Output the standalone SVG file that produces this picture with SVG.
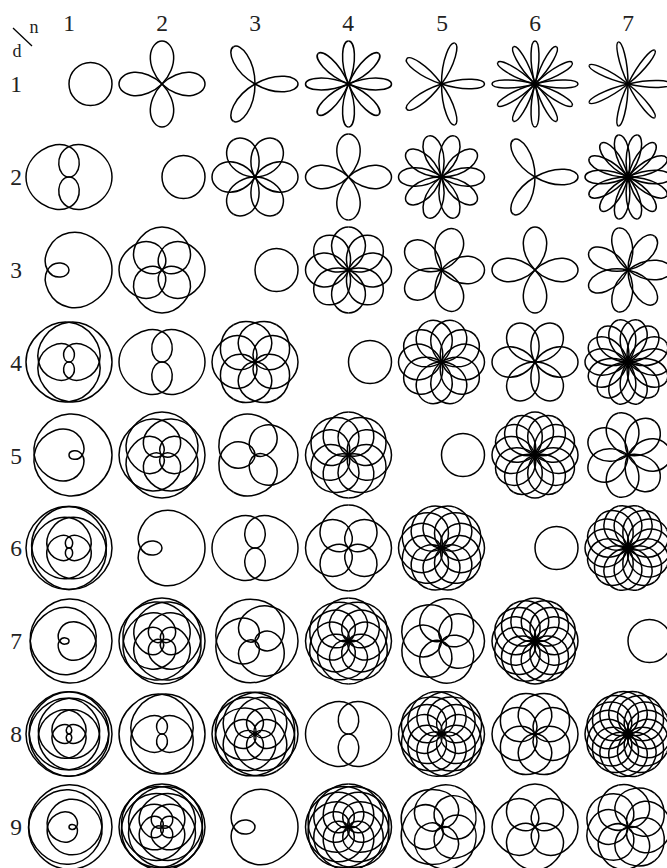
<svg xmlns="http://www.w3.org/2000/svg" width="667" height="868" viewBox="0 0 667 868">
<style>
.c{fill:none;stroke:#000;stroke-width:1.5}
text{font-family:"Liberation Serif",serif;font-size:23.5px;fill:#222;text-anchor:middle}
.s{font-size:18px}
</style>
<defs>
<circle id="k1" cx="21.5" cy="0" r="21.5"/>
<path id="h1_2" d="M43 0C43 22.52 15.92 38.36 0 30.41S-11.26 0 0 0"/>
<path id="h1_3" d="M43 0C43 22.52 19.5 40.99 0 37.24S-28 11.25 -21.5 0S0 -7.51 0 0"/>
<path id="h1_4" d="M43 0C43 22.52 20.8 41.88 0 39.73S-34.39 15.92 -30.41 0S-8.62 -21.66 0 -16.46S5.63 0 0 0"/>
<path id="h1_5" d="M43 0C43 22.52 21.42 42.29 0 40.9S-37.43 18.22 -34.79 0S-13.24 -28.92 0 -25.28S17.57 -6.96 13.29 0S0 4.5 0 0"/>
<path id="h1_6" d="M43 0C43 22.51 21.75 42.51 0 41.53S-39.11 19.5 -37.24 0S-15.92 -33.06 0 -30.41S24.75 -11.26 21.5 0S5.83 14.75 0 11.13S-3.75 0 0 0"/>
<path id="h1_7" d="M43 0C43 22.51 21.95 42.64 0 41.92S-40.14 20.28 -38.74 0S-17.6 -35.62 0 -33.62S29.33 -14.04 26.81 0S9.77 21.56 0 18.66S-12.7 5.01 -9.57 0S0 -3.22 0 0"/>
<path id="h1_8" d="M43 0C43 22.51 22.08 42.72 0 42.17S-40.8 20.8 -39.73 0S-18.72 -37.32 0 -35.75S32.4 -15.92 30.41 0S12.51 26.23 0 23.89S-19.06 8.61 -16.46 0S-4.39 -11.15 0 -8.39S2.81 0 0 0"/>
<path id="h1_9" d="M43 0C43 22.51 22.17 42.78 0 42.35S-41.26 21.15 -40.41 0S-19.49 -38.49 0 -37.24S34.55 -17.24 32.94 0S14.47 29.56 0 27.64S-23.67 11.26 -21.5 0S-7.7 -17.06 0 -14.71S9.93 -3.91 7.47 0S0 2.5 0 0"/>
<path id="h2_1" d="M43 0C43 5.63 36.96 11 28.1 11.64S7.96 7.96 0 0"/>
<path id="h2_3" d="M43 0C43 16.89 25.71 30.87 11.64 28.1S-7.96 7.96 0 0"/>
<path id="h2_5" d="M43 0C43 18.76 26.31 35.38 9.64 35.97S-19.56 22.12 -18.62 10.75S-5.31 -5.31 0 0"/>
<path id="h2_7" d="M43 0C43 19.7 26.02 37.53 7.75 38.97S-26.44 26.03 -28.1 11.64S-18.3 -13.82 -9.14 -13.69S3.98 -3.98 0 0"/>
<path id="h2_9" d="M43 0C43 20.27 25.64 38.76 6.4 40.4S-30.54 27.16 -33.09 10.75S-23.74 -20.36 -11.48 -22.52S10.53 -15.39 10.75 -7.81S3.18 3.18 0 0"/>
<path id="h3_1" d="M43 0C43 8.25 21.44 12.39 0 0"/>
<path id="h3_2" d="M43 0C43 7.51 35.87 14.58 26.34 15.2S5.63 9.75 0 0"/>
<path id="h3_4" d="M43 0C43 15.01 28.37 27.91 15.2 26.34S-5.63 9.75 0 0"/>
<path id="h3_5" d="M43 0C43 18.77 22.75 33.62 7.87 29.37S-9.75 5.63 0 0"/>
<path id="h3_7" d="M43 0C43 17.51 28.27 33.33 12.74 34.99S-15.83 24.7 -16.47 13.82S-6.5 -3.75 0 0"/>
<path id="h3_8" d="M43 0C43 20.01 24.19 37.36 6.47 36.67S-22.89 18.98 -20.2 7.35S-3.75 -6.5 0 0"/>
<path id="h4_1" d="M43 0C43 6.19 22.88 9.47 0 0"/>
<path id="h4_3" d="M43 0C43 8.45 35.22 16.35 25.29 16.9S4.31 10.4 0 0"/>
<path id="h4_5" d="M43 0C43 14.08 29.58 26.37 16.9 25.29S-4.31 10.4 0 0"/>
<path id="h4_7" d="M43 0C43 19.71 21.14 34.9 5.93 29.83S-10.4 4.31 0 0"/>
<path id="h4_9" d="M43 0C43 16.89 29.21 32.27 14.25 34.41S-13.83 25.77 -15.2 15.2S-6.93 -2.87 0 0"/>
<path id="h5_1" d="M43 0C43 4.95 23.55 7.66 0 0"/>
<path id="h5_2" d="M43 0C43 9.9 20.03 14.55 0 0"/>
<path id="h5_3" d="M43 0C43 6.76 36.35 13.16 27.1 13.81S6.62 9.11 0 0"/>
<path id="h5_4" d="M43 0C43 9.01 34.77 17.4 24.6 17.87S3.48 10.71 0 0"/>
<path id="h5_6" d="M43 0C43 13.51 30.28 25.42 17.87 24.6S-3.48 10.71 0 0"/>
<path id="h5_7" d="M43 0C43 15.76 27.35 29.12 13.81 27.1S-6.62 9.11 0 0"/>
<path id="h5_8" d="M43 0C43 18.02 23.97 32.54 9.4 28.92S-9.11 6.62 0 0"/>
<path id="h5_9" d="M43 0C43 20.27 20.15 35.65 4.76 30.04S-10.71 3.48 0 0"/>
<path id="h6_1" d="M43 0C43 4.13 23.91 6.41 0 0"/>
<path id="h6_5" d="M43 0C43 9.38 34.47 18.09 24.13 18.51S2.91 10.88 0 0"/>
<path id="h6_7" d="M43 0C43 13.14 30.72 24.77 18.51 24.13S-2.91 10.88 0 0"/>
<path id="h7_1" d="M43 0C43 3.54 24.15 5.51 0 0"/>
<path id="h7_2" d="M43 0C43 7.07 22.31 10.75 0 0"/>
<path id="h7_3" d="M43 0C43 10.62 19.36 15.44 0 0"/>
<path id="h7_4" d="M43 0C43 6.43 36.53 12.54 27.4 13.19S7.02 8.8 0 0"/>
<path id="h7_5" d="M43 0C43 8.04 35.51 15.59 25.75 16.18S4.89 10.15 0 0"/>
<path id="h7_6" d="M43 0C43 9.65 34.24 18.59 23.77 18.96S2.51 10.98 0 0"/>
<path id="h7_8" d="M43 0C43 12.87 31.03 24.32 18.96 23.77S-2.51 10.98 0 0"/>
<path id="h7_9" d="M43 0C43 14.48 29.07 27.04 16.18 25.75S-4.89 10.15 0 0"/>

<g id="p1_2"><use href="#h1_2"/><use href="#h1_2" transform="scale(1,-1)"/></g>
<g id="p1_4"><use href="#h1_4"/><use href="#h1_4" transform="scale(1,-1)"/></g>
<g id="p1_6"><use href="#h1_6"/><use href="#h1_6" transform="scale(1,-1)"/></g>
<g id="p1_8"><use href="#h1_8"/><use href="#h1_8" transform="scale(1,-1)"/></g>
<g id="p2_1"><use href="#h2_1"/><use href="#h2_1" transform="scale(1,-1)"/></g>
<g id="p2_3"><use href="#h2_3"/><use href="#h2_3" transform="scale(1,-1)"/></g>
<g id="p2_5"><use href="#h2_5"/><use href="#h2_5" transform="scale(1,-1)"/></g>
<g id="p2_7"><use href="#h2_7"/><use href="#h2_7" transform="scale(1,-1)"/></g>
<g id="p2_9"><use href="#h2_9"/><use href="#h2_9" transform="scale(1,-1)"/></g>
<g id="p3_1"><use href="#h3_1"/><use href="#h3_1" transform="scale(1,-1)"/></g>
<g id="p3_2"><use href="#h3_2"/><use href="#h3_2" transform="scale(1,-1)"/></g>
<g id="p3_4"><use href="#h3_4"/><use href="#h3_4" transform="scale(1,-1)"/></g>
<g id="p3_5"><use href="#h3_5"/><use href="#h3_5" transform="scale(1,-1)"/></g>
<g id="p3_7"><use href="#h3_7"/><use href="#h3_7" transform="scale(1,-1)"/></g>
<g id="p3_8"><use href="#h3_8"/><use href="#h3_8" transform="scale(1,-1)"/></g>
<g id="p4_1"><use href="#h4_1"/><use href="#h4_1" transform="scale(1,-1)"/></g>
<g id="p4_3"><use href="#h4_3"/><use href="#h4_3" transform="scale(1,-1)"/></g>
<g id="p4_5"><use href="#h4_5"/><use href="#h4_5" transform="scale(1,-1)"/></g>
<g id="p4_7"><use href="#h4_7"/><use href="#h4_7" transform="scale(1,-1)"/></g>
<g id="p4_9"><use href="#h4_9"/><use href="#h4_9" transform="scale(1,-1)"/></g>
<g id="p5_1"><use href="#h5_1"/><use href="#h5_1" transform="scale(1,-1)"/></g>
<g id="p5_2"><use href="#h5_2"/><use href="#h5_2" transform="scale(1,-1)"/></g>
<g id="p5_3"><use href="#h5_3"/><use href="#h5_3" transform="scale(1,-1)"/></g>
<g id="p5_4"><use href="#h5_4"/><use href="#h5_4" transform="scale(1,-1)"/></g>
<g id="p5_6"><use href="#h5_6"/><use href="#h5_6" transform="scale(1,-1)"/></g>
<g id="p5_7"><use href="#h5_7"/><use href="#h5_7" transform="scale(1,-1)"/></g>
<g id="p5_8"><use href="#h5_8"/><use href="#h5_8" transform="scale(1,-1)"/></g>
<g id="p5_9"><use href="#h5_9"/><use href="#h5_9" transform="scale(1,-1)"/></g>
<g id="p6_1"><use href="#h6_1"/><use href="#h6_1" transform="scale(1,-1)"/></g>
<g id="p6_5"><use href="#h6_5"/><use href="#h6_5" transform="scale(1,-1)"/></g>
<g id="p6_7"><use href="#h6_7"/><use href="#h6_7" transform="scale(1,-1)"/></g>
<g id="p7_1"><use href="#h7_1"/><use href="#h7_1" transform="scale(1,-1)"/></g>
<g id="p7_2"><use href="#h7_2"/><use href="#h7_2" transform="scale(1,-1)"/></g>
<g id="p7_3"><use href="#h7_3"/><use href="#h7_3" transform="scale(1,-1)"/></g>
<g id="p7_4"><use href="#h7_4"/><use href="#h7_4" transform="scale(1,-1)"/></g>
<g id="p7_5"><use href="#h7_5"/><use href="#h7_5" transform="scale(1,-1)"/></g>
<g id="p7_6"><use href="#h7_6"/><use href="#h7_6" transform="scale(1,-1)"/></g>
<g id="p7_8"><use href="#h7_8"/><use href="#h7_8" transform="scale(1,-1)"/></g>
<g id="p7_9"><use href="#h7_9"/><use href="#h7_9" transform="scale(1,-1)"/></g>
<g id="p1_3"><use href="#h1_3"/><use href="#h1_3" transform="scale(1,-1)"/></g>
<g id="p1_5"><use href="#h1_5"/><use href="#h1_5" transform="scale(1,-1)"/></g>
<g id="p1_7"><use href="#h1_7"/><use href="#h1_7" transform="scale(1,-1)"/></g>
<g id="p1_9"><use href="#h1_9"/><use href="#h1_9" transform="scale(1,-1)"/></g>

<g id="k1_2"><use href="#p1_2"/><use href="#p1_2" transform="rotate(180)"/></g>
<g id="k1_4"><use href="#p1_4"/><use href="#p1_4" transform="rotate(180)"/></g>
<g id="k1_6"><use href="#p1_6"/><use href="#p1_6" transform="rotate(180)"/></g>
<g id="k1_8"><use href="#p1_8"/><use href="#p1_8" transform="rotate(180)"/></g>

<g id="k2_1"><use href="#p2_1"/><use href="#p2_1" transform="rotate(90)"/><use href="#p2_1" transform="rotate(180)"/><use href="#p2_1" transform="rotate(270)"/></g>
<g id="k2_3"><use href="#p2_3"/><use href="#p2_3" transform="rotate(90)"/><use href="#p2_3" transform="rotate(180)"/><use href="#p2_3" transform="rotate(270)"/></g>
<g id="k2_5"><use href="#p2_5"/><use href="#p2_5" transform="rotate(90)"/><use href="#p2_5" transform="rotate(180)"/><use href="#p2_5" transform="rotate(270)"/></g>
<g id="k2_7"><use href="#p2_7"/><use href="#p2_7" transform="rotate(90)"/><use href="#p2_7" transform="rotate(180)"/><use href="#p2_7" transform="rotate(270)"/></g>
<g id="k2_9"><use href="#p2_9"/><use href="#p2_9" transform="rotate(90)"/><use href="#p2_9" transform="rotate(180)"/><use href="#p2_9" transform="rotate(270)"/></g>

<g id="k3_1"><use href="#p3_1"/><use href="#p3_1" transform="rotate(120)"/><use href="#p3_1" transform="rotate(240)"/></g>
<g id="k3_5"><use href="#p3_5"/><use href="#p3_5" transform="rotate(120)"/><use href="#p3_5" transform="rotate(240)"/></g>
<g id="k3_7"><use href="#p3_7"/><use href="#p3_7" transform="rotate(120)"/><use href="#p3_7" transform="rotate(240)"/></g>
<g id="k3_2"><use href="#p3_2"/><use href="#p3_2" transform="rotate(60)"/><use href="#p3_2" transform="rotate(120)"/><use href="#p3_2" transform="rotate(180)"/><use href="#p3_2" transform="rotate(240)"/><use href="#p3_2" transform="rotate(300)"/></g>
<g id="k3_4"><use href="#p3_4"/><use href="#p3_4" transform="rotate(60)"/><use href="#p3_4" transform="rotate(120)"/><use href="#p3_4" transform="rotate(180)"/><use href="#p3_4" transform="rotate(240)"/><use href="#p3_4" transform="rotate(300)"/></g>
<g id="k3_8"><use href="#p3_8"/><use href="#p3_8" transform="rotate(60)"/><use href="#p3_8" transform="rotate(120)"/><use href="#p3_8" transform="rotate(180)"/><use href="#p3_8" transform="rotate(240)"/><use href="#p3_8" transform="rotate(300)"/></g>

<g id="k4_1"><use href="#p4_1"/><use href="#p4_1" transform="rotate(45)"/><use href="#p4_1" transform="rotate(90)"/><use href="#p4_1" transform="rotate(135)"/><use href="#p4_1" transform="rotate(180)"/><use href="#p4_1" transform="rotate(225)"/><use href="#p4_1" transform="rotate(270)"/><use href="#p4_1" transform="rotate(315)"/></g>
<g id="k4_3"><use href="#p4_3"/><use href="#p4_3" transform="rotate(45)"/><use href="#p4_3" transform="rotate(90)"/><use href="#p4_3" transform="rotate(135)"/><use href="#p4_3" transform="rotate(180)"/><use href="#p4_3" transform="rotate(225)"/><use href="#p4_3" transform="rotate(270)"/><use href="#p4_3" transform="rotate(315)"/></g>
<g id="k4_5"><use href="#p4_5"/><use href="#p4_5" transform="rotate(45)"/><use href="#p4_5" transform="rotate(90)"/><use href="#p4_5" transform="rotate(135)"/><use href="#p4_5" transform="rotate(180)"/><use href="#p4_5" transform="rotate(225)"/><use href="#p4_5" transform="rotate(270)"/><use href="#p4_5" transform="rotate(315)"/></g>
<g id="k4_7"><use href="#p4_7"/><use href="#p4_7" transform="rotate(45)"/><use href="#p4_7" transform="rotate(90)"/><use href="#p4_7" transform="rotate(135)"/><use href="#p4_7" transform="rotate(180)"/><use href="#p4_7" transform="rotate(225)"/><use href="#p4_7" transform="rotate(270)"/><use href="#p4_7" transform="rotate(315)"/></g>
<g id="k4_9"><use href="#p4_9"/><use href="#p4_9" transform="rotate(45)"/><use href="#p4_9" transform="rotate(90)"/><use href="#p4_9" transform="rotate(135)"/><use href="#p4_9" transform="rotate(180)"/><use href="#p4_9" transform="rotate(225)"/><use href="#p4_9" transform="rotate(270)"/><use href="#p4_9" transform="rotate(315)"/></g>

<g id="k5_1"><use href="#p5_1"/><use href="#p5_1" transform="rotate(72)"/><use href="#p5_1" transform="rotate(144)"/><use href="#p5_1" transform="rotate(216)"/><use href="#p5_1" transform="rotate(288)"/></g>
<g id="k5_3"><use href="#p5_3"/><use href="#p5_3" transform="rotate(72)"/><use href="#p5_3" transform="rotate(144)"/><use href="#p5_3" transform="rotate(216)"/><use href="#p5_3" transform="rotate(288)"/></g>
<g id="k5_7"><use href="#p5_7"/><use href="#p5_7" transform="rotate(72)"/><use href="#p5_7" transform="rotate(144)"/><use href="#p5_7" transform="rotate(216)"/><use href="#p5_7" transform="rotate(288)"/></g>
<g id="k5_9"><use href="#p5_9"/><use href="#p5_9" transform="rotate(72)"/><use href="#p5_9" transform="rotate(144)"/><use href="#p5_9" transform="rotate(216)"/><use href="#p5_9" transform="rotate(288)"/></g>
<g id="k5_2"><use href="#p5_2"/><use href="#p5_2" transform="rotate(36)"/><use href="#p5_2" transform="rotate(72)"/><use href="#p5_2" transform="rotate(108)"/><use href="#p5_2" transform="rotate(144)"/><use href="#p5_2" transform="rotate(180)"/><use href="#p5_2" transform="rotate(216)"/><use href="#p5_2" transform="rotate(252)"/><use href="#p5_2" transform="rotate(288)"/><use href="#p5_2" transform="rotate(324)"/></g>
<g id="k5_4"><use href="#p5_4"/><use href="#p5_4" transform="rotate(36)"/><use href="#p5_4" transform="rotate(72)"/><use href="#p5_4" transform="rotate(108)"/><use href="#p5_4" transform="rotate(144)"/><use href="#p5_4" transform="rotate(180)"/><use href="#p5_4" transform="rotate(216)"/><use href="#p5_4" transform="rotate(252)"/><use href="#p5_4" transform="rotate(288)"/><use href="#p5_4" transform="rotate(324)"/></g>
<g id="k5_6"><use href="#p5_6"/><use href="#p5_6" transform="rotate(36)"/><use href="#p5_6" transform="rotate(72)"/><use href="#p5_6" transform="rotate(108)"/><use href="#p5_6" transform="rotate(144)"/><use href="#p5_6" transform="rotate(180)"/><use href="#p5_6" transform="rotate(216)"/><use href="#p5_6" transform="rotate(252)"/><use href="#p5_6" transform="rotate(288)"/><use href="#p5_6" transform="rotate(324)"/></g>
<g id="k5_8"><use href="#p5_8"/><use href="#p5_8" transform="rotate(36)"/><use href="#p5_8" transform="rotate(72)"/><use href="#p5_8" transform="rotate(108)"/><use href="#p5_8" transform="rotate(144)"/><use href="#p5_8" transform="rotate(180)"/><use href="#p5_8" transform="rotate(216)"/><use href="#p5_8" transform="rotate(252)"/><use href="#p5_8" transform="rotate(288)"/><use href="#p5_8" transform="rotate(324)"/></g>

<g id="k6_1"><use href="#p6_1"/><use href="#p6_1" transform="rotate(30)"/><use href="#p6_1" transform="rotate(60)"/><use href="#p6_1" transform="rotate(90)"/><use href="#p6_1" transform="rotate(120)"/><use href="#p6_1" transform="rotate(150)"/><use href="#p6_1" transform="rotate(180)"/><use href="#p6_1" transform="rotate(210)"/><use href="#p6_1" transform="rotate(240)"/><use href="#p6_1" transform="rotate(270)"/><use href="#p6_1" transform="rotate(300)"/><use href="#p6_1" transform="rotate(330)"/></g>
<g id="k6_5"><use href="#p6_5"/><use href="#p6_5" transform="rotate(30)"/><use href="#p6_5" transform="rotate(60)"/><use href="#p6_5" transform="rotate(90)"/><use href="#p6_5" transform="rotate(120)"/><use href="#p6_5" transform="rotate(150)"/><use href="#p6_5" transform="rotate(180)"/><use href="#p6_5" transform="rotate(210)"/><use href="#p6_5" transform="rotate(240)"/><use href="#p6_5" transform="rotate(270)"/><use href="#p6_5" transform="rotate(300)"/><use href="#p6_5" transform="rotate(330)"/></g>
<g id="k6_7"><use href="#p6_7"/><use href="#p6_7" transform="rotate(30)"/><use href="#p6_7" transform="rotate(60)"/><use href="#p6_7" transform="rotate(90)"/><use href="#p6_7" transform="rotate(120)"/><use href="#p6_7" transform="rotate(150)"/><use href="#p6_7" transform="rotate(180)"/><use href="#p6_7" transform="rotate(210)"/><use href="#p6_7" transform="rotate(240)"/><use href="#p6_7" transform="rotate(270)"/><use href="#p6_7" transform="rotate(300)"/><use href="#p6_7" transform="rotate(330)"/></g>

<g id="k7_1"><use href="#p7_1"/><use href="#p7_1" transform="rotate(51.43)"/><use href="#p7_1" transform="rotate(102.86)"/><use href="#p7_1" transform="rotate(154.29)"/><use href="#p7_1" transform="rotate(205.71)"/><use href="#p7_1" transform="rotate(257.14)"/><use href="#p7_1" transform="rotate(308.57)"/></g>
<g id="k7_3"><use href="#p7_3"/><use href="#p7_3" transform="rotate(51.43)"/><use href="#p7_3" transform="rotate(102.86)"/><use href="#p7_3" transform="rotate(154.29)"/><use href="#p7_3" transform="rotate(205.71)"/><use href="#p7_3" transform="rotate(257.14)"/><use href="#p7_3" transform="rotate(308.57)"/></g>
<g id="k7_5"><use href="#p7_5"/><use href="#p7_5" transform="rotate(51.43)"/><use href="#p7_5" transform="rotate(102.86)"/><use href="#p7_5" transform="rotate(154.29)"/><use href="#p7_5" transform="rotate(205.71)"/><use href="#p7_5" transform="rotate(257.14)"/><use href="#p7_5" transform="rotate(308.57)"/></g>
<g id="k7_9"><use href="#p7_9"/><use href="#p7_9" transform="rotate(51.43)"/><use href="#p7_9" transform="rotate(102.86)"/><use href="#p7_9" transform="rotate(154.29)"/><use href="#p7_9" transform="rotate(205.71)"/><use href="#p7_9" transform="rotate(257.14)"/><use href="#p7_9" transform="rotate(308.57)"/></g>
<g id="k7_2"><use href="#p7_2"/><use href="#p7_2" transform="rotate(25.71)"/><use href="#p7_2" transform="rotate(51.43)"/><use href="#p7_2" transform="rotate(77.14)"/><use href="#p7_2" transform="rotate(102.86)"/><use href="#p7_2" transform="rotate(128.57)"/><use href="#p7_2" transform="rotate(154.29)"/><use href="#p7_2" transform="rotate(180)"/><use href="#p7_2" transform="rotate(205.71)"/><use href="#p7_2" transform="rotate(231.43)"/><use href="#p7_2" transform="rotate(257.14)"/><use href="#p7_2" transform="rotate(282.86)"/><use href="#p7_2" transform="rotate(308.57)"/><use href="#p7_2" transform="rotate(334.29)"/></g>
<g id="k7_4"><use href="#p7_4"/><use href="#p7_4" transform="rotate(25.71)"/><use href="#p7_4" transform="rotate(51.43)"/><use href="#p7_4" transform="rotate(77.14)"/><use href="#p7_4" transform="rotate(102.86)"/><use href="#p7_4" transform="rotate(128.57)"/><use href="#p7_4" transform="rotate(154.29)"/><use href="#p7_4" transform="rotate(180)"/><use href="#p7_4" transform="rotate(205.71)"/><use href="#p7_4" transform="rotate(231.43)"/><use href="#p7_4" transform="rotate(257.14)"/><use href="#p7_4" transform="rotate(282.86)"/><use href="#p7_4" transform="rotate(308.57)"/><use href="#p7_4" transform="rotate(334.29)"/></g>
<g id="k7_6"><use href="#p7_6"/><use href="#p7_6" transform="rotate(25.71)"/><use href="#p7_6" transform="rotate(51.43)"/><use href="#p7_6" transform="rotate(77.14)"/><use href="#p7_6" transform="rotate(102.86)"/><use href="#p7_6" transform="rotate(128.57)"/><use href="#p7_6" transform="rotate(154.29)"/><use href="#p7_6" transform="rotate(180)"/><use href="#p7_6" transform="rotate(205.71)"/><use href="#p7_6" transform="rotate(231.43)"/><use href="#p7_6" transform="rotate(257.14)"/><use href="#p7_6" transform="rotate(282.86)"/><use href="#p7_6" transform="rotate(308.57)"/><use href="#p7_6" transform="rotate(334.29)"/></g>
<g id="k7_8"><use href="#p7_8"/><use href="#p7_8" transform="rotate(25.71)"/><use href="#p7_8" transform="rotate(51.43)"/><use href="#p7_8" transform="rotate(77.14)"/><use href="#p7_8" transform="rotate(102.86)"/><use href="#p7_8" transform="rotate(128.57)"/><use href="#p7_8" transform="rotate(154.29)"/><use href="#p7_8" transform="rotate(180)"/><use href="#p7_8" transform="rotate(205.71)"/><use href="#p7_8" transform="rotate(231.43)"/><use href="#p7_8" transform="rotate(257.14)"/><use href="#p7_8" transform="rotate(282.86)"/><use href="#p7_8" transform="rotate(308.57)"/><use href="#p7_8" transform="rotate(334.29)"/></g>
</defs>

<g id="labels">
<line id="corner" x1="13" y1="28" x2="32" y2="46" stroke="#000" stroke-width="1.3"/>
<text class="s" x="34" y="33">n</text><text class="s" x="17" y="57">d</text>
<text x="69" y="31">1</text><text x="162" y="31">2</text><text x="255" y="31">3</text><text x="348" y="31">4</text><text x="442" y="31">5</text><text x="535" y="31">6</text><text x="628" y="31">7</text>
<text x="16" y="92">1</text><text x="16" y="185">2</text><text x="16" y="278">3</text><text x="16" y="371">4</text><text x="16" y="464">5</text><text x="16" y="556">6</text><text x="16" y="649">7</text><text x="16" y="742">8</text><text x="16" y="835">9</text>
</g>

<g id="curves" class="c">
<g id="row1"><use href="#k1" x="69" y="84"/><use href="#k2_1" x="162" y="84"/><use href="#k3_1" x="255" y="84"/><use href="#k4_1" x="348.500" y="84"/><use href="#k5_1" x="441.500" y="84"/><use href="#k6_1" x="535" y="84"/><use href="#k7_1" x="628" y="84"/></g>
<g id="row2"><use href="#k1_2" x="69" y="177"/><use href="#k1" x="162" y="177"/><use href="#k3_2" x="255" y="177"/><use href="#k2_1" x="348.500" y="177"/><use href="#k5_2" x="441.500" y="177"/><use href="#k3_1" x="535" y="177"/><use href="#k7_2" x="628" y="177"/></g>
<g id="row3"><use href="#p1_3" x="69" y="270"/><use href="#k2_3" x="162" y="270"/><use href="#k1" x="255" y="270"/><use href="#k4_3" x="348.500" y="270"/><use href="#k5_3" x="441.500" y="270"/><use href="#k2_1" x="535" y="270"/><use href="#k7_3" x="628" y="270"/></g>
<g id="row4"><use href="#k1_4" x="69" y="362"/><use href="#k1_2" x="162" y="362"/><use href="#k3_4" x="255" y="362"/><use href="#k1" x="348.500" y="362"/><use href="#k5_4" x="441.500" y="362"/><use href="#k3_2" x="535" y="362"/><use href="#k7_4" x="628" y="362"/></g>
<g id="row5"><use href="#p1_5" x="69" y="455"/><use href="#k2_5" x="162" y="455"/><use href="#k3_5" x="255" y="455"/><use href="#k4_5" x="348.500" y="455"/><use href="#k1" x="441.500" y="455"/><use href="#k6_5" x="535" y="455"/><use href="#k7_5" x="628" y="455"/></g>
<g id="row6"><use href="#k1_6" x="69" y="548"/><use href="#p1_3" x="162" y="548"/><use href="#k1_2" x="255" y="548"/><use href="#k2_3" x="348.500" y="548"/><use href="#k5_6" x="441.500" y="548"/><use href="#k1" x="535" y="548"/><use href="#k7_6" x="628" y="548"/></g>
<g id="row7"><use href="#p1_7" x="69" y="641"/><use href="#k2_7" x="162" y="641"/><use href="#k3_7" x="255" y="641"/><use href="#k4_7" x="348.500" y="641"/><use href="#k5_7" x="441.500" y="641"/><use href="#k6_7" x="535" y="641"/><use href="#k1" x="628" y="641"/></g>
<g id="row8"><use href="#k1_8" x="69" y="734"/><use href="#k1_4" x="162" y="734"/><use href="#k3_8" x="255" y="734"/><use href="#k1_2" x="348.500" y="734"/><use href="#k5_8" x="441.500" y="734"/><use href="#k3_4" x="535" y="734"/><use href="#k7_8" x="628" y="734"/></g>
<g id="row9"><use href="#p1_9" x="69" y="827"/><use href="#k2_9" x="162" y="827"/><use href="#p1_3" x="255" y="827"/><use href="#k4_9" x="348.500" y="827"/><use href="#k5_9" x="441.500" y="827"/><use href="#k2_3" x="535" y="827"/><use href="#k7_9" x="628" y="827"/></g>
</g>
</svg>
